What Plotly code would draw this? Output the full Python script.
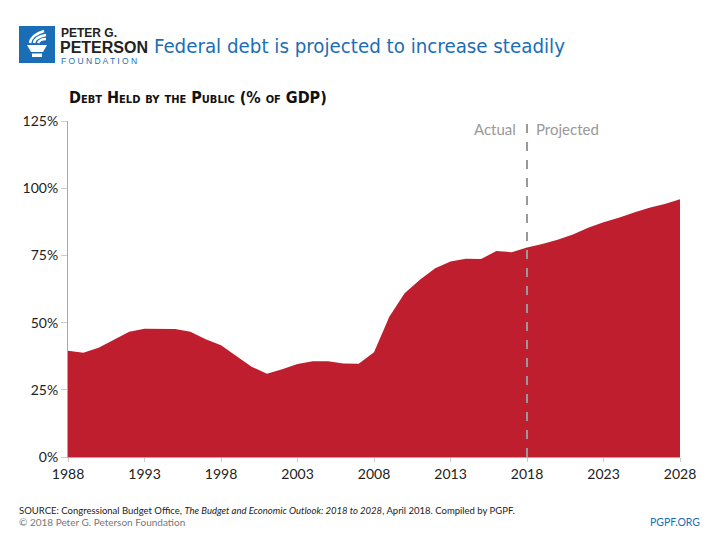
import plotly.graph_objects as go

years = list(range(1988, 2029))
debt_pct = [39.5, 38.8, 40.6, 43.6, 46.6, 47.7, 47.7, 47.6, 46.6, 43.8, 41.6, 37.5,
            33.6, 31.0, 32.6, 34.6, 35.6, 35.6, 34.8, 34.7, 39.0, 52.2, 60.9, 65.9,
            70.2, 72.7, 73.8, 73.7, 76.6, 76.2, 77.9, 79.2, 80.8, 82.8, 85.3, 87.3,
            89.0, 91.0, 92.7, 94.1, 95.9]
x_ticks = [1988, 1993, 1998, 2003, 2008, 2013, 2018, 2023, 2028]
y_ticks = [0, 25, 50, 75, 100, 125]
y_tick_labels = ["0%", "25%", "50%", "75%", "100%", "125%"]
split_year = 2018

RED = "#BE1E2D"
BLUE = "#1B6EB5"
GRAY = "#999999"
FONT = "Lato"
COND = "DejaVu Sans Condensed, Roboto, sans-serif"

OFF = 8  # page body margin offset
L, R, T, B = 68 - OFF, 680 - OFF, 121 - OFF, 457 - OFF

def px(x):
    return (x - OFF - L) / (R - L)
def py(y):
    return (B - (y - OFF)) / (B - T)

fig = go.Figure()
fig.add_trace(go.Scatter(x=years, y=debt_pct, mode="lines", fill="tozeroy",
                         line=dict(color=RED, width=0), fillcolor=RED,
                         hoverinfo="x+y", showlegend=False))

shapes = [
    dict(type="line", xref="x", yref="paper", x0=split_year, x1=split_year,
         y0=0, y1=py(117), line=dict(color=GRAY, width=2, dash="dash"), layer="above"),
    dict(type="rect", xref="paper", yref="paper", x0=px(19), x1=px(55), y0=py(63), y1=py(26),
         fillcolor=BLUE, line=dict(width=0)),
    dict(type="path", xref="paper", yref="paper",
         path="M {} {} L {} {} L {} {} L {} {} Z".format(px(27), py(45), px(47), py(45), px(43), py(52), px(31), py(52)),
         fillcolor="white", line=dict(width=0)),
    dict(type="rect", xref="paper", yref="paper", x0=px(32), x1=px(42), y0=py(57), y1=py(53.5),
         fillcolor="white", line=dict(width=0)),
    dict(type="path", xref="paper", yref="paper",
         path="M {} {} Q {} {} {} {}".format(px(30), py(43), px(31), py(35), px(44), py(31)),
         line=dict(color="white", width=2.5)),
    dict(type="path", xref="paper", yref="paper",
         path="M {} {} Q {} {} {} {}".format(px(34), py(43), px(35), py(37), px(46), py(35)),
         line=dict(color="white", width=2.5)),
    dict(type="path", xref="paper", yref="paper",
         path="M {} {} Q {} {} {} {}".format(px(38), py(43), px(40), py(39), px(46), py(39)),
         line=dict(color="white", width=2.5)),
]

def ann(text, x, y, size, color, xanchor="left", yanchor="middle", family=FONT, **font_kw):
    return dict(text=text, xref="paper", yref="paper", x=px(x), y=py(y), showarrow=False,
                xanchor=xanchor, yanchor=yanchor,
                font=dict(size=size, color=color, family=family, **font_kw))

annotations = [
    ann("<b>PETER G.</b>", 59, 33.5, 12, "#222222", family="Liberation Sans"),
    ann("<b>PETERSON</b>", 58, 47.5, 16, "#222222", family="Liberation Sans"),
    ann("F O U N D A T I O N", 59, 61, 8.5, BLUE, family="Liberation Sans"),
    ann("Federal debt is projected to increase steadily", 152, 46, 20.3, BLUE, family=COND),
    ann("<b>Debt Held by the Public (% of GDP)</b>", 67, 97, 16, "#111111",
        family=COND, variant="small-caps"),
    ann("Actual", 518, 129, 15, GRAY, xanchor="right"),
    ann("Projected", 534, 129, 15, GRAY),
    ann("SOURCE: Congressional Budget Office, <i>The Budget and Economic Outlook: 2018 to 2028</i>, April 2018. Compiled by PGPF.",
        17, 510, 9.5, "#222222"),
    ann("© 2018 Peter G. Peterson Foundation", 17, 522, 10, "#777777"),
    ann("PGPF.ORG", 702, 522, 10.5, BLUE, xanchor="right"),
]

fig.update_layout(
    width=720, height=540,
    margin=dict(l=L, r=720 - R, t=T, b=540 - B),
    paper_bgcolor="white", plot_bgcolor="white",
    font=dict(family=FONT, color="#222222"),
    shapes=shapes, annotations=annotations,
    xaxis=dict(range=[1988, 2028], tickvals=x_ticks, showgrid=False, zeroline=False,
               showline=True, linecolor="#AAAAAA", linewidth=1, ticks="outside",
               ticklen=4, tickcolor="#CCCCCC", tickfont=dict(size=14, color="#222222"),
               fixedrange=True),
    yaxis=dict(range=[0, 125], tickvals=y_ticks, ticktext=y_tick_labels, showgrid=False,
               zeroline=False, showline=True, linecolor="#AAAAAA", linewidth=1,
               ticks="outside", ticklen=6, tickcolor="#CCCCCC",
               tickfont=dict(size=14, color="#222222"), fixedrange=True),
)

fig.write_html("out.html")
